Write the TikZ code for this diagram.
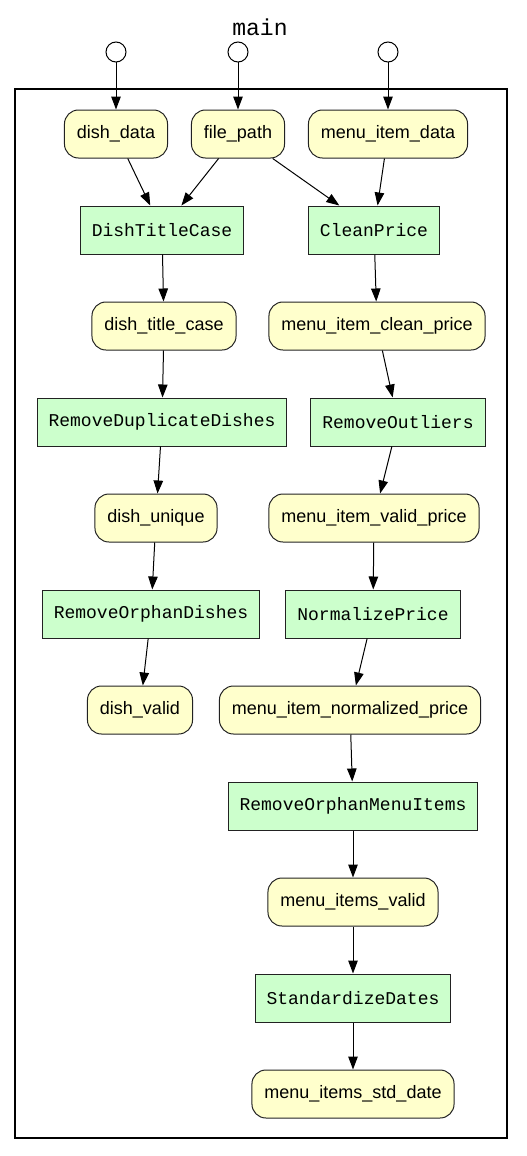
\documentclass[tikz,border=0pt]{standalone}
\usepackage{fontspec}
\setmainfont{Liberation Sans}
\setmonofont{Liberation Mono}
\usetikzlibrary{arrows.meta}

\definecolor{datafill}{HTML}{FFFFCC}
\definecolor{procfill}{HTML}{CCFFCC}
\definecolor{edgegray}{HTML}{222222}

\tikzset{
  data/.style={draw=edgegray,line width=1pt,fill=datafill,rounded corners=14pt,minimum height=48pt,
    inner xsep=12.5pt,font=\fontsize{18}{20}\selectfont},
  proc/.style={draw=edgegray,line width=1pt,fill=procfill,minimum height=48pt,
    inner xsep=11.5pt,font=\fontsize{18}{20}\selectfont\ttfamily},
  port/.style={draw,line width=1pt,fill=white,circle,minimum size=20pt,inner sep=0pt},
  flow/.style={-{Triangle[length=13pt,width=9.5pt]},line width=1pt}
}

\begin{document}
\begin{tikzpicture}[x=1pt,y=-1pt]
\useasboundingbox (0,0) rectangle (527,1156);
% frame and title
\draw[line width=2.2pt] (15,89) rectangle (507,1138);
\node[font=\fontsize{23}{25}\selectfont\ttfamily] (title) at (260,27) {main};

% inputs
\node[port] (in1) at (116,52) {};
\node[port] (in2) at (238,52) {};
\node[port] (in3) at (388,52) {};

\node[data] (dishdata) at (116,134) {dish\_data};
\node[data] (filepath) at (238,134) {file\_path};
\node[data] (menudata) at (388,134) {menu\_item\_data};

% dish branch
\node[proc] (titlecase) at (162,230) {DishTitleCase};
\node[data] (dishtitle) at (164,326) {dish\_title\_case};
\node[proc] (dedup) at (162,422) {RemoveDuplicateDishes};
\node[data] (dishunique) at (156,518) {dish\_unique};
\node[proc] (orphandish) at (151,614) {RemoveOrphanDishes};
\node[data] (dishvalid) at (140,710) {dish\_valid};

% menu item branch
\node[proc] (clean) at (374,230) {CleanPrice};
\node[data] (cleanprice) at (377,326) {menu\_item\_clean\_price};
\node[proc] (outliers) at (398,422) {RemoveOutliers};
\node[data] (validprice) at (374,518) {menu\_item\_valid\_price};
\node[proc] (normalize) at (373,614) {NormalizePrice};
\node[data] (normprice) at (350,710) {menu\_item\_normalized\_price};
\node[proc] (orphanmenu) at (353,806) {RemoveOrphanMenuItems};
\node[data] (itemsvalid) at (353,902) {menu\_items\_valid};
\node[proc] (stddates) at (353,998) {StandardizeDates};
\node[data] (stddate) at (353,1094) {menu\_items\_std\_date};

\draw[flow] (in1) -- (dishdata);
\draw[flow] (in2) -- (filepath);
\draw[flow] (in3) -- (menudata);
\draw[flow] (dishdata) -- (titlecase);
\draw[flow] (filepath) -- (titlecase);
\draw[flow] (filepath) -- (clean);
\draw[flow] (menudata) -- (clean);
\draw[flow] (titlecase) -- (dishtitle);
\draw[flow] (dishtitle) -- (dedup);
\draw[flow] (dedup) -- (dishunique);
\draw[flow] (dishunique) -- (orphandish);
\draw[flow] (orphandish) -- (dishvalid);
\draw[flow] (clean) -- (cleanprice);
\draw[flow] (cleanprice) -- (outliers);
\draw[flow] (outliers) -- (validprice);
\draw[flow] (validprice) -- (normalize);
\draw[flow] (normalize) -- (normprice);
\draw[flow] (normprice) -- (orphanmenu);
\draw[flow] (orphanmenu) -- (itemsvalid);
\draw[flow] (itemsvalid) -- (stddates);
\draw[flow] (stddates) -- (stddate);
\end{tikzpicture}
\end{document}
